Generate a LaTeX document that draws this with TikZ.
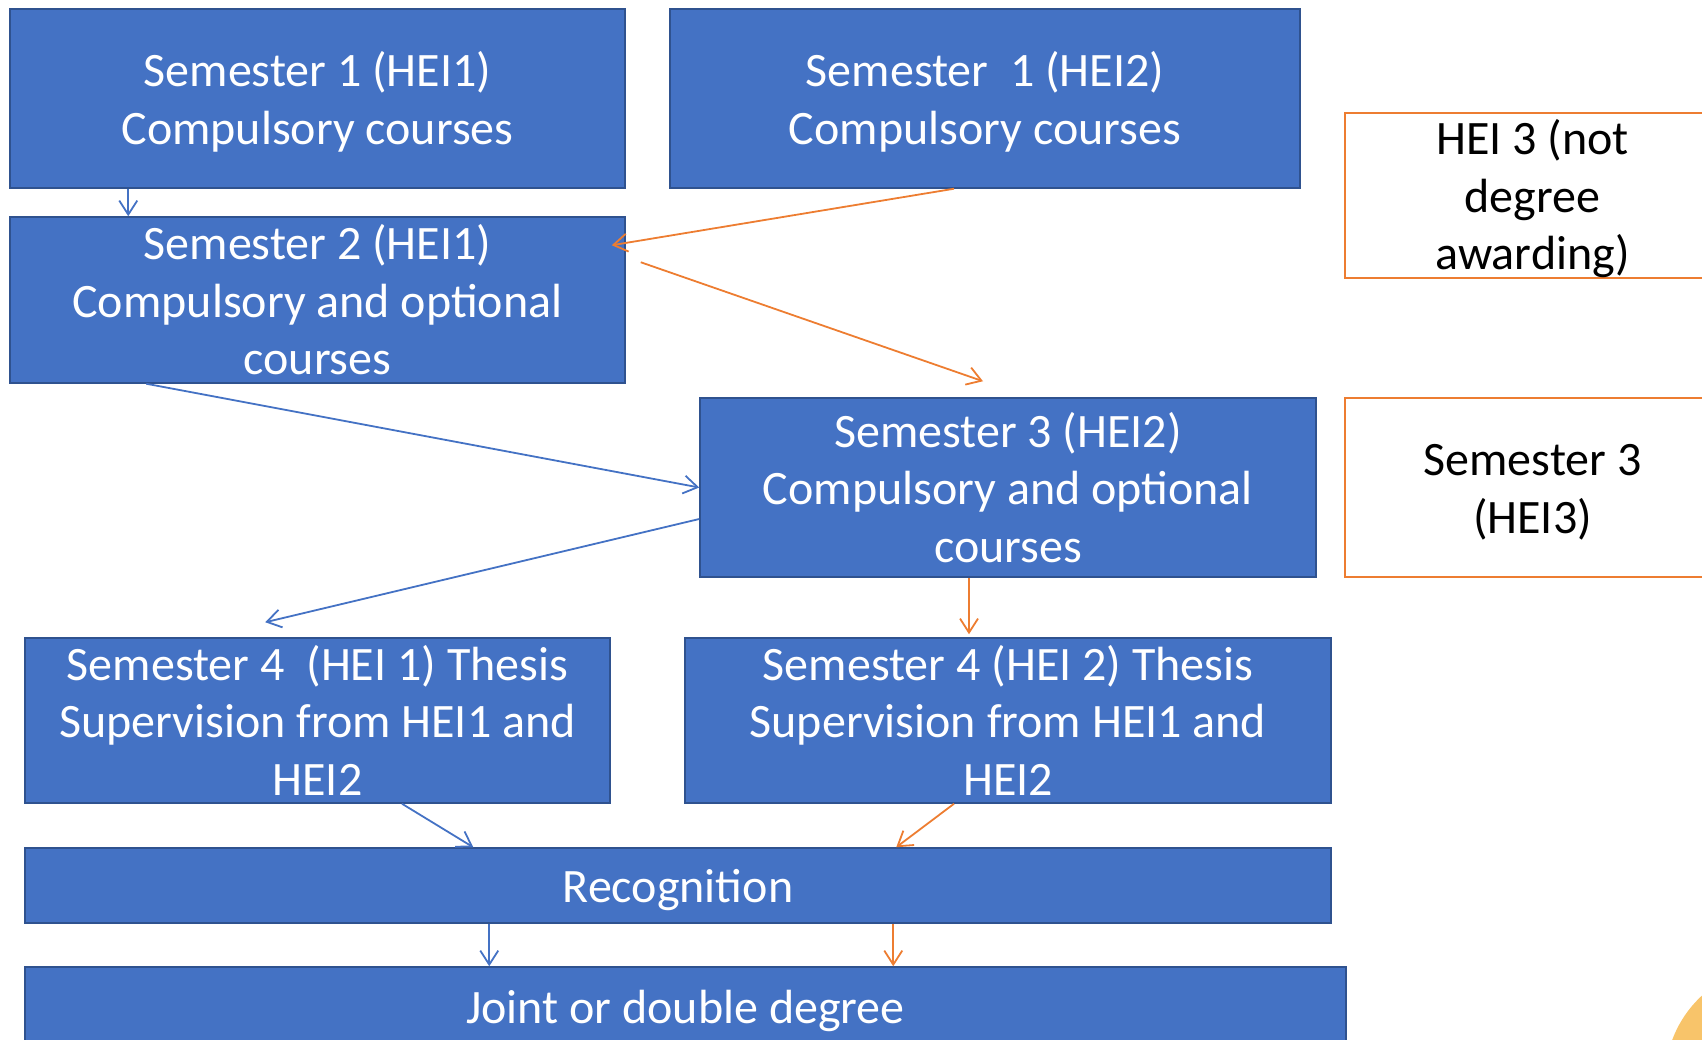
\documentclass[tikz,border=0pt]{standalone}
\usepackage{fontspec}
\setmainfont{Carlito}
\usepackage{tikz}
\usetikzlibrary{arrows.meta}
\definecolor{boxblue}{HTML}{4472C4}
\definecolor{edgeblue}{HTML}{2F528F}
\definecolor{hei}{HTML}{ED7D31}
\definecolor{sun}{HTML}{F8C46A}
\newcommand{\lnstrut}{\rule[-8pt]{0pt}{50pt}}
\tikzset{
    bluebox/.style={shape=rectangle,draw=edgeblue,fill=boxblue,line width=1.5pt,text=white,inner sep=0pt,align=center,font=\fontsize{48}{57.5}\selectfont},
    heibox/.style={shape=rectangle,draw=hei,line width=2pt,text=black,inner sep=0pt,align=center,font=\fontsize{48}{57.5}\selectfont},
    bluearrow/.style={draw=boxblue,line width=1.8pt},
    heiarrow/.style={draw=hei,line width=1.8pt}
}

\begin{document}
\begin{tikzpicture}[x=1pt,y=-1pt,>={Straight Barb[length=14pt,width=18pt]}]
        \useasboundingbox (0,0) rectangle (1702,1040);
        \fill[sun] (1780,1080) circle (115);
        \node[bluebox,minimum width=615pt,minimum height=179pt] (S1a) at (317.5,98.5) {\lnstrut Semester 1 (HEI1)\\Compulsory courses\lnstrut};
        \node[bluebox,minimum width=630pt,minimum height=179pt] (S1b) at (985,98.5) {\lnstrut Semester\ \ 1 (HEI2)\\Compulsory courses\lnstrut};
        \node[heibox,minimum width=375pt,minimum height=165pt] (H3) at (1532.5,195.5) {\lnstrut HEI 3 (not\\degree\\awarding)\lnstrut};
        \node[bluebox,minimum width=615pt,minimum height=166pt] (S2) at (317.5,300) {\lnstrut Semester 2 (HEI1)\\Compulsory and optional\\courses\lnstrut};
        \node[bluebox,minimum width=616pt,minimum height=179pt] (S3b) at (1008,487.5) {\lnstrut Semester 3 (HEI2)\\Compulsory and optional\\courses\lnstrut};
        \node[heibox,minimum width=375pt,minimum height=179pt] (S3c) at (1532.5,487.5) {\lnstrut Semester 3\\(HEI3)\lnstrut};
        \node[bluebox,minimum width=585pt,minimum height=165pt] (S4a) at (317.5,720.5) {\lnstrut Semester 4\ \ (HEI 1) Thesis\\Supervision from HEI1 and\\HEI2\lnstrut};
        \node[bluebox,minimum width=646pt,minimum height=165pt] (S4b) at (1008,720.5) {\lnstrut Semester 4 (HEI 2) Thesis\\Supervision from HEI1 and\\HEI2\lnstrut};
        \node[bluebox,minimum width=1306pt,minimum height=75pt] (Rec) at (678,885.5) {\lnstrut Recognition};
        \node[bluebox,minimum width=1321pt,minimum height=79pt] (Deg) at (685.5,1006.5) {\lnstrut Joint or double degree};
        \draw [->,bluearrow] ([xshift=119pt]S1a.south west) -- ([xshift=119pt]S2.north west);
        \draw [->,heiarrow] ([xshift=-31pt]S1b.south) -- ([xshift=-14pt,yshift=-29pt]S2.north east);
        \draw [->,heiarrow] ([xshift=15pt,yshift=-46pt]S2.north east) -- ([xshift=-25pt,yshift=16pt]S3b.north);
        \draw [->,bluearrow] ([xshift=137pt]S2.south west) -- (S3b.west);
        \draw [->,bluearrow] ([yshift=-31.5pt]S3b.west) -- ([xshift=241pt,yshift=15pt]S4a.north west);
        \draw [->,heiarrow] ([xshift=-39pt]S3b.south) -- ([xshift=-39pt,yshift=3pt]S4b.north);
        \draw [->,bluearrow] ([xshift=84.5pt]S4a.south) -- ([xshift=449pt]Rec.north west);
        \draw [->,heiarrow] ([xshift=-54pt]S4b.south) -- ([xshift=872pt]Rec.north west);
        \draw [->,bluearrow] ([xshift=465pt]Rec.south west) -- ([xshift=465pt]Deg.north west);
        \draw [->,heiarrow] ([xshift=869pt]Rec.south west) -- ([xshift=869pt]Deg.north west);
    \end{tikzpicture}
\end{document}
